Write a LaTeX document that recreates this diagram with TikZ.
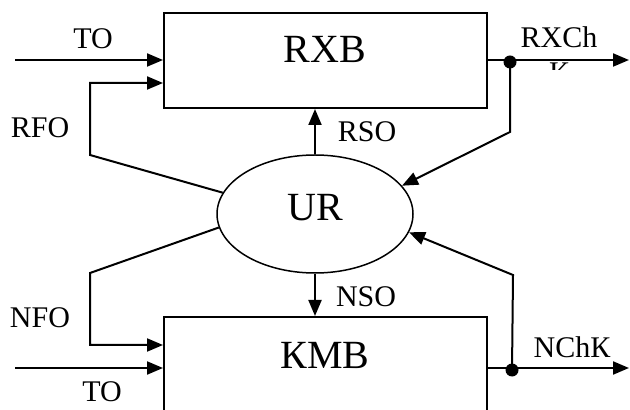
\documentclass[tikz,border=0pt]{standalone}
\usepackage{fontspec}
\setmainfont{Liberation Serif}
\usetikzlibrary{arrows.meta,shapes.geometric}

\begin{document}
\begin{tikzpicture}[x=0.5pt,y=-0.5pt,
		blk/.style={draw,line width=1pt,minimum width=161.5pt,minimum height=47.5pt,inner sep=0pt},
		sig/.style={line width=1pt,-{Triangle[length=8pt,width=6.5pt]}},
		lab/.style={font=\fontsize{15}{17.5}\selectfont,inner sep=0pt},
		big/.style={font=\fontsize{20}{24}\selectfont,inner sep=0pt},
		dot/.style={circle,fill,inner sep=0pt,minimum size=6.5pt}]
		\useasboundingbox (0,0) rectangle (630,410);
		\clip (0,0) rectangle (630,410);
		% Bloques
		\node[blk] (RXB) at (325.5,60.5) {};
		\node[big] (RXBt) at (325,49) {RXB};
		\node[draw,ellipse,line width=0.75pt,minimum width=98pt,minimum height=59pt,inner sep=0pt] (UR) at (315,214) {};
		\node[big] (URt) at (315,208) {UR};
		\node[blk] (KMB) at (325.5,364.5) {};
		\node[big] (KMBt) at (325,355) {КMB};
		% Nivel RXB
		\coordinate (inR) at (15,60);
		\draw[sig] (inR) -- (inR -| RXB.west);
		\node[lab] (TOr) at (93,39) {TO};
		\draw[sig] (UR.167) -- (90,155) |- (RXB.west |- 0,83);
		\node[lab] (RFO) at (40,128) {RFO};
		\draw[sig] (UR.north) -- (UR.north |- RXB.south);
		\node[lab] (RSO) at (367,132) {RSO};
		\coordinate (outR) at (629,60);
		\draw[sig] (RXB.east |- outR) -- (outR);
		\node[dot] (jR) at (510,62) {};
		\draw[sig] (jR.center) -- (510,132) -- (UR.18);
		\begin{scope}
			\clip (500,0) rectangle (630,70);
			\node[lab,align=center,anchor=base] (RXCh) at (559,83) {RXCh\\К};
		\end{scope}
		% Nivel KMB
		\draw[sig] (UR.188) -- (90,273) |- (KMB.west |- 0,345);
		\node[lab] (NFO) at (40,318) {NFO};
		\coordinate (inN) at (15,368);
		\draw[sig] (inN) -- (inN -| KMB.west);
		\node[lab] (TOn) at (102,392) {TO};
		\draw[sig] (UR.south) -- (UR.south |- KMB.north);
		\node[lab] (NSO) at (366,297) {NSO};
		\coordinate (outN) at (629,368);
		\draw[sig] (KMB.east |- outN) -- (outN);
		\node[dot] (jN) at (512,370) {};
		\draw[sig] (jN.center) -- (513,275) -- (UR.349);
		\node[lab] (NChK) at (572,347) {NChК};
	\end{tikzpicture}
\end{document}
